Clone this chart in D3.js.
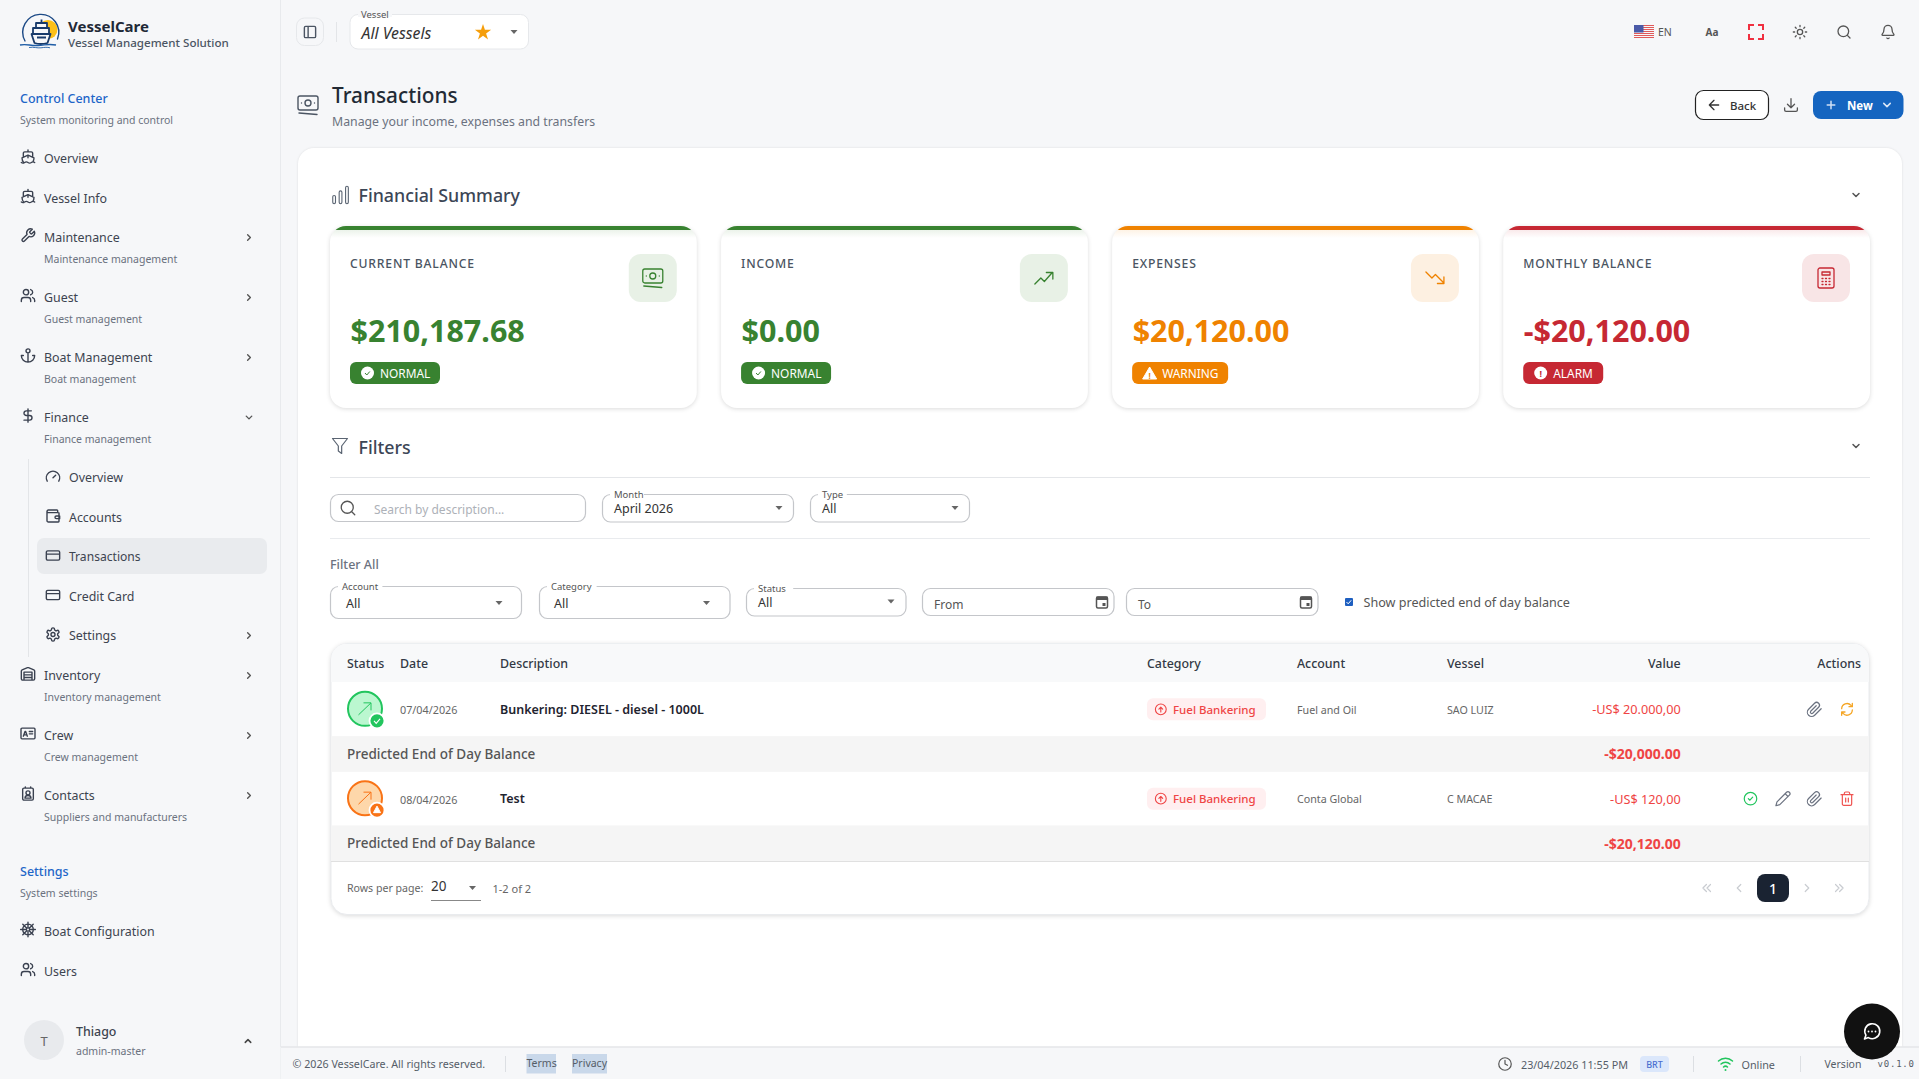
<!DOCTYPE html>
<html><head><meta charset="utf-8">
<script src="https://cdn.jsdelivr.net/npm/d3@7"></script>
<style>html,body{margin:0;padding:0;background:#f6f7f9;overflow:hidden}svg{display:block}text{font-family:"Noto Sans",sans-serif}</style>
</head><body><div id="app"></div>
<script>
// ---------- data ----------
const brandName = "VesselCare";
const brandTagline = "Vessel Management Solution";
const navMain = ["Overview","Vessel Info"];
const navGroups1 = ["Maintenance","Guest","Boat Management","Finance"];
const navGroups1Sub = ["Maintenance management","Guest management","Boat management","Finance management"];
const navFinance = ["Overview","Accounts","Transactions","Credit Card","Settings"];
const navGroups2 = ["Inventory","Crew","Contacts"];
const navGroups2Sub = ["Inventory management","Crew management","Suppliers and manufacturers"];
const navSettings = ["Boat Configuration","Users"];
const cardLabels = ["CURRENT BALANCE","INCOME","EXPENSES","MONTHLY BALANCE"];
const cardValues = [210187.68,0,20120,-20120];
const cardStatus = ["NORMAL","NORMAL","WARNING","ALARM"];
const tableColumns = ["Status","Date","Description","Category","Account","Vessel","Value","Actions"];
const txDates = ["07/04/2026","08/04/2026"];
const txDescriptions = ["Bunkering: DIESEL - diesel - 1000L","Test"];
const txCategories = ["Fuel Bankering","Fuel Bankering"];
const txAccounts = ["Fuel and Oil","Conta Global"];
const txVessels = ["SAO LUIZ","C MACAE"];
const txValues = [-20000,-120];
const txBalances = [-20000,-20120];
const txStates = ["paid","pending"];

// ---------- palette ----------
const GREEN="#388230", ORANGE="#ef8200", RED="#c62833";
const statusColor = d3.scaleOrdinal().domain(["NORMAL","WARNING","ALARM"]).range([GREEN,ORANGE,RED]);
const statusTile = d3.scaleOrdinal().domain(["NORMAL","WARNING","ALARM"]).range(["#e8f1e6","#fdf0e1","#f8e5e6"]);
const fmtUS = d3.formatLocale({decimal:".",thousands:",",grouping:[3],currency:["$",""],minus:"-"}).format("$,.2f");
const fmtBR = d3.formatLocale({decimal:",",thousands:".",grouping:[3],currency:["US$ ",""],minus:"-"}).format("$,.2f");

// ---------- icons ----------
const I = {
 ship:"M12 10.189V14 M12 2v3 M19 13V7a2 2 0 0 0-2-2H7a2 2 0 0 0-2 2v6 M19.38 20A11.6 11.6 0 0 0 21 14l-8.188-3.639a2 2 0 0 0-1.624 0L3 14a11.6 11.6 0 0 0 2.81 7.76 M2 21c.6.5 1.2 1 2.5 1 2.5 0 2.5-2 5-2 1.3 0 1.9.5 2.5 1s1.2 1 2.5 1c2.5 0 2.5-2 5-2 1.3 0 1.9.5 2.5 1",
 wrench:"M14.7 6.3a1 1 0 0 0 0 1.4l1.6 1.6a1 1 0 0 0 1.4 0l3.77-3.77a6 6 0 0 1-7.94 7.94l-6.91 6.91a2.12 2.12 0 0 1-3-3l6.91-6.91a6 6 0 0 1 7.94-7.94l-3.76 3.76z",
 users:"M16 21v-2a4 4 0 0 0-4-4H6a4 4 0 0 0-4 4v2 M16 3.13a4 4 0 0 1 0 7.75 M22 21v-2a4 4 0 0 0-3-3.87 M13 7a4 4 0 1 1-8 0 4 4 0 0 1 8 0",
 anchor:"M12 22V8 M5 12H2a10 10 0 0 0 20 0h-3 M15 5a3 3 0 1 1-6 0 3 3 0 0 1 6 0",
 dollar:"M12 2v20 M17 5H9.5a3.5 3.5 0 0 0 0 7h5a3.5 3.5 0 0 1 0 7H6",
 gauge:"M12 14l4-4 M3.34 19a10 10 0 1 1 17.32 0",
 wallet:"M19 7V4a1 1 0 0 0-1-1H5a2 2 0 0 0 0 4h15a1 1 0 0 1 1 1v12a1 1 0 0 1-1 1H5a2 2 0 0 1-2-2V5 M22 12h-5a2 2 0 0 0 0 4h5z",
 card:"M4 5h16a2 2 0 0 1 2 2v10a2 2 0 0 1-2 2H4a2 2 0 0 1-2-2V7a2 2 0 0 1 2-2z M2 10h20",
 gear:"M12.22 2h-.44a2 2 0 0 0-2 2v.18a2 2 0 0 1-1 1.73l-.43.25a2 2 0 0 1-2 0l-.15-.08a2 2 0 0 0-2.73.73l-.22.38a2 2 0 0 0 .73 2.73l.15.1a2 2 0 0 1 1 1.72v.51a2 2 0 0 1-1 1.74l-.15.09a2 2 0 0 0-.73 2.73l.22.38a2 2 0 0 0 2.73.73l.15-.08a2 2 0 0 1 2 0l.43.25a2 2 0 0 1 1 1.73V20a2 2 0 0 0 2 2h.44a2 2 0 0 0 2-2v-.18a2 2 0 0 1 1-1.73l.43-.25a2 2 0 0 1 2 0l.15.08a2 2 0 0 0 2.73-.73l.22-.39a2 2 0 0 0-.73-2.73l-.15-.08a2 2 0 0 1-1-1.74v-.5a2 2 0 0 1 1-1.74l.15-.09a2 2 0 0 0 .73-2.73l-.22-.38a2 2 0 0 0-2.73-.73l-.15.08a2 2 0 0 1-2 0l-.43-.25a2 2 0 0 1-1-1.73V4a2 2 0 0 0-2-2z M15 12a3 3 0 1 1-6 0 3 3 0 0 1 6 0",
 warehouse:"M22 8.35V20a2 2 0 0 1-2 2H4a2 2 0 0 1-2-2V8.35A2 2 0 0 1 3.26 6.5l8-3.2a2 2 0 0 1 1.48 0l8 3.2A2 2 0 0 1 22 8.35Z M6 18h12 M6 14h12 M6 10h12 M6 22V10 M18 22V10",
 idcard:"M3 4h18a1.5 1.5 0 0 1 1.5 1.5v13a1.5 1.5 0 0 1-1.5 1.5H3a1.5 1.5 0 0 1-1.5-1.5v-13A1.5 1.5 0 0 1 3 4z M14 9h5 M14 12.5h5 M5 16l2.5-7h1l2.5 7 M6 14h4",
 contact:"M16 2v2 M8 2v2 M6 4h12a2 2 0 0 1 2 2v14a2 2 0 0 1-2 2H6a2 2 0 0 1-2-2V6a2 2 0 0 1 2-2z M7.5 19a4.5 4 0 0 1 9 0z M15 11a3 3 0 1 1-6 0 3 3 0 0 1 6 0",
 wheel:"M20 12a8 8 0 1 1-16 0 8 8 0 0 1 16 0 M14.5 12a2.5 2.5 0 1 1-5 0 2.5 2.5 0 0 1 5 0 M12 1v8 M12 15v8 M1 12h8 M15 12h8 M4.2 4.2l5.6 5.6 M14.2 14.2l5.6 5.6 M19.8 4.2l-5.6 5.6 M9.8 14.2l-5.6 5.6",
 chevR:"M9 6l6 6-6 6", chevD:"M6 9l6 6 6-6", chevU:"M6 15l6-6 6 6", chevL:"M15 6l-6 6 6 6",
 chevDL:"M11 6l-6 6 6 6 M18 6l-6 6 6 6", chevDR:"M6 6l6 6-6 6 M13 6l6 6-6 6",
 panel:"M5 3h14a2 2 0 0 1 2 2v14a2 2 0 0 1-2 2H5a2 2 0 0 1-2-2V5a2 2 0 0 1 2-2z M9 3v18",
 money:"M4 3h16a2 2 0 0 1 2 2v10a2 2 0 0 1-2 2H4a2 2 0 0 1-2-2V5a2 2 0 0 1 2-2z M15 10a3 3 0 1 1-6 0 3 3 0 0 1 6 0 M5.5 10h.01 M18.5 10h.01 M3 20l18 1.5",
 bars:"M3 14a1.5 1.5 0 0 1 3 0v6a1.5 1.5 0 0 1-3 0z M10 9a1.5 1.5 0 0 1 3 0v11a1.5 1.5 0 0 1-3 0z M17 4a1.5 1.5 0 0 1 3 0v16a1.5 1.5 0 0 1-3 0z",
 funnel:"M3 3h18l-7 9v9l-4-3v-6z",
 search:"M19 11a8 8 0 1 1-16 0 8 8 0 0 1 16 0 M21 21l-4.3-4.3",
 bell:"M10.3 21a2 2 0 0 0 3.4 0 M3.3 15.3A1 1 0 0 0 4 17h16a1 1 0 0 0 .7-1.7C19.4 14 18 12.5 18 8A6 6 0 0 0 6 8c0 4.5-1.4 6-2.7 7.3",
 sun:"M16 12a4 4 0 1 1-8 0 4 4 0 0 1 8 0 M12 2v2 M12 20v2 M4.9 4.9l1.4 1.4 M17.7 17.7l1.4 1.4 M2 12h2 M20 12h2 M6.3 17.7l-1.4 1.4 M19.1 4.9l-1.4 1.4",
 trendUp:"M3 18l6-6 3.5 3.5L20 7 M14.5 6.5H21V13",
 trendDown:"M3 6l6 6 3.5-3.5L20 16 M14.5 17.5H21V11",
 calc:"M6 2h12a2 2 0 0 1 2 2v16a2 2 0 0 1-2 2H6a2 2 0 0 1-2-2V4a2 2 0 0 1 2-2z M8 6h8v3H8z M8 12.5h1 M11.5 12.5h1 M15 12.5h1 M8 15.5h1 M11.5 15.5h1 M15 15.5h1 M8 18.5h1 M11.5 18.5h1 M15 18.5h1",
 arrowL:"M19 12H5 M12 19l-7-7 7-7",
 download:"M12 3v13 M7 11l5 5 5-5 M3 16v3a2 2 0 0 0 2 2h14a2 2 0 0 0 2-2v-3",
 plus:"M5 12h14 M12 5v14",
 clip:"M21.4 11.1l-9.2 9.2a6 6 0 0 1-8.5-8.5l8.4-8.4a4 4 0 0 1 5.7 5.7l-8.4 8.4a2 2 0 0 1-2.8-2.8l7.8-7.8",
 refresh:"M4 11a8 8 0 0 1 14-5l2 2 M20 3v5h-5 M20 13a8 8 0 0 1-14 5l-2-2 M4 21v-5h5",
 checkCircle:"M22 12a10 10 0 1 1-20 0 10 10 0 0 1 20 0 M8.5 12l2.5 2.5 4.5-5",
 pencil:"M17 3a2.8 2.8 0 1 1 4 4L7.5 20.5 2 22l1.5-5.5z M15 5l4 4",
 trash:"M3 6h18 M19 6v14a2 2 0 0 1-2 2H7a2 2 0 0 1-2-2V6 M8 6V4a2 2 0 0 1 2-2h4a2 2 0 0 1 2 2v2 M10 11v6 M14 11v6",
 clock:"M22 12a10 10 0 1 1-20 0 10 10 0 0 1 20 0 M12 6v6l4 2",
 upCircle:"M22 12a10 10 0 1 1-20 0 10 10 0 0 1 20 0 M12 17V8 M8.5 11.5L12 8l3.5 3.5",
 chat:"M3 21l1.7-4.6A9 9 0 1 1 7.6 19.3z"
};

const W=1919,H=1079;
const svg=d3.select("#app").append("svg").attr("width",W).attr("height",H).attr("viewBox",`0 0 ${W} ${H}`);
const defs=svg.append("defs");
function txt(x,y,s,o={}){
  const t=svg.append("text").attr("x",x).attr("y",y).attr("dominant-baseline","central").text(s)
   .attr("font-size",o.size||12).attr("font-weight",o.weight||400).attr("fill",o.fill||"#444");
  if(o.anchor)t.attr("text-anchor",o.anchor);
  if(o.style)t.attr("font-style",o.style);
  if(o.ls)t.attr("letter-spacing",o.ls);
  if(o.family)t.style("font-family",o.family);
  return t;
}
function icon(name,cx,cy,size,color,sw=1.6,fill="none"){
  const k=size/24;
  svg.append("path").attr("d",I[name]).attr("transform",`translate(${cx-size/2},${cy-size/2}) scale(${k})`)
    .attr("fill",fill).attr("stroke",color).attr("stroke-width",sw/k)
    .attr("stroke-linecap","round").attr("stroke-linejoin","round");
}
function rect(x,y,w,h,r,fill,stroke,sw=1){
  const e=svg.append("rect").attr("x",x).attr("y",y).attr("width",w).attr("height",h).attr("rx",r).attr("ry",r).attr("fill",fill||"none");
  if(stroke)e.attr("stroke",stroke).attr("stroke-width",sw);
  return e;
}
function line(x1,y1,x2,y2,c,sw=1){svg.append("line").attr("x1",x1).attr("y1",y1).attr("x2",x2).attr("y2",y2).attr("stroke",c).attr("stroke-width",sw);}
function caret(x,y,c="#666"){svg.append("path").attr("d",`M${x-3.5},${y-2}h7l-3.5,4z`).attr("fill",c);}

// ---------- background / sidebar ----------
rect(0,0,W,H,0,"#f6f7f9");
line(280.5,0,280.5,H,"#e8eaed");

// logo
(function(){
  svg.append("circle").attr("cx",48).attr("cy",29.5).attr("r",9.5).attr("fill","#fdc018");
  svg.append("path").attr("d","M25,41 A18,18 0 1 1 57.5,39").attr("fill","none").attr("stroke","#1c4a86").attr("stroke-width",1.4).attr("stroke-linecap","round");
  svg.append("path").attr("d","M36,28v-5h11v5z M33,34v-6h16v6z M31.5,34h19l-3,9q-7,2-13,0z").attr("fill","#f6f7f9").attr("stroke","#183a6a").attr("stroke-width",1.8).attr("stroke-linejoin","round");
  svg.append("path").attr("d","M41.5,19.5v3.5 M37,37.5h9").attr("fill","none").attr("stroke","#183a6a").attr("stroke-width",1.8);
  svg.append("path").attr("d","M20,45c7,-1.5 10,1 18,0.5s10,-2 18,-0.5").attr("fill","none").attr("stroke","#1f5da6").attr("stroke-width",1.4);
  svg.append("path").attr("d","M29,47.5c5,-0.8 8,0.8 12,0.3s6,-0.8 9,0").attr("fill","none").attr("stroke","#1f5da6").attr("stroke-width",0.9);
})();
txt(68,26,brandName,{size:15,weight:700,fill:"#1f2937"});
txt(68,42,brandTagline,{size:11.6,weight:500,fill:"#4b5563"});

const NAVC="#3d4450", SUBC="#6b7280", BLUE="#1e66c8";
txt(20,98.5,"Control Center",{size:12.5,weight:500,fill:BLUE});
txt(20,120,"System monitoring and control",{size:10.5,fill:SUBC});

function navItem(ic,label,y,sub,chev){
  icon(ic,28,y-2,16,"#3a4150",1.4);
  txt(44,y,label,{size:12.4,fill:NAVC});
  if(sub) txt(44,y+21.5,sub,{size:10.5,fill:SUBC});
  if(chev) icon(chev,249,y,11,"#555",1.4);
}
const navMainY=d3.scalePoint().domain(navMain).range([158.5,198]);
navMain.forEach(n=>navItem("ship",n,navMainY(n)));
const g1Y=d3.scaleLinear().domain([0,3]).range([237.5,417.5]);
const g1Icons=["wrench","users","anchor","dollar"];
navGroups1.forEach((n,i)=>navItem(g1Icons[i],n,g1Y(i),navGroups1Sub[i],n==="Finance"?"chevD":"chevR"));

// finance submenu
line(28.5,459,28.5,657,"#e3e5e8");
rect(37,538,230,36,7,"#e9ebee");
const finY=d3.scaleLinear().domain([0,4]).range([477.5,635.5]);
const finIcons=["gauge","wallet","card","card","gear"];
navFinance.forEach((n,i)=>{
  icon(finIcons[i],53,finY(i)-1,16,"#3a4150",1.4);
  txt(69,finY(i),n,{size:n==="Transactions"?12.1:12.4,fill:NAVC});
  if(n==="Settings") icon("chevR",249,finY(i),11,"#555",1.4);
});
const g2Y=d3.scaleLinear().domain([0,2]).range([675.5,795.5]);
const g2Icons=["warehouse","idcard","contact"];
navGroups2.forEach((n,i)=>navItem(g2Icons[i],n,g2Y(i),navGroups2Sub[i],"chevR"));

txt(20,871.5,"Settings",{size:12.5,weight:500,fill:BLUE});
txt(20,893,"System settings",{size:10.5,fill:SUBC});
navItem("wheel",navSettings[0],931.5);
navItem("users",navSettings[1],971.5);

svg.append("circle").attr("cx",44).attr("cy",1040).attr("r",20).attr("fill","#e8eaed");
txt(44,1041,"T",{size:13,fill:"#666",anchor:"middle"});
txt(76,1031.5,"Thiago",{size:12.4,weight:500,fill:NAVC});
txt(76,1050.5,"admin-master",{size:10.5,fill:SUBC});
icon("chevU",248,1041,11,"#444",1.5);

// ---------- top bar ----------
rect(296.5,18,27,27.5,8,"#f6f7f9","#e6e8eb");
icon("panel",310,32,15,"#4b5563",1.4);
line(336.5,22,336.5,42,"#e3e5e8");
rect(350,14.5,178.5,34.5,8,"#fff","#e6e8eb");
rect(358,12,34,5,0,"#f6f7f9");
txt(361,14.5,"Vessel",{size:9.5,fill:"#555"});
txt(361.5,33,"All Vessels",{size:15.8,style:"italic",fill:"#333"});
svg.append("path").attr("d",d3.symbol().type(d3.symbolStar).size(82)).attr("transform","translate(483,32.5)").attr("fill","#f59e0b");
caret(514,32);

// flag
(function(){
  d3.range(7).forEach(i=>rect(1634,25+i*2,20,1,0,"#e05a5a"));
  rect(1634,25,9.5,7.5,0,"#4a5aa8");
})();
txt(1658,32,"EN",{size:10.5,fill:"#555"});
txt(1712,31.5,"Aa",{size:10,weight:700,fill:"#555",anchor:"middle"});
svg.append("path").attr("d","M1749,30v-5h5 M1758,25h5v5 M1763,34v5h-5 M1754,39h-5v-5").attr("fill","none").attr("stroke","#f03040").attr("stroke-width",2);
icon("sun",1800,32,16,"#555",1.3);
icon("search",1844,32,16,"#555",1.3);
icon("bell",1888,32,16,"#555",1.3);

// ---------- title ----------
icon("money",308,105,24,"#4b5563",1.4);
txt(332,95,"Transactions",{size:20.8,weight:500,fill:"#222a35"});
txt(332,121.5,"Manage your income, expenses and transfers",{size:12.3,fill:"#6b7280"});
rect(1695.5,90.5,73,29,8,"#fff","#222",1.2);
icon("arrowL",1714,105,16,"#333",1.3);
txt(1730,105,"Back",{size:11.5,weight:500,fill:"#333"});
icon("download",1791,105,17,"#555",1.3);
rect(1813,91,90.5,28,8,"#1565c0");
icon("plus",1831,105,13,"#cfe0f5",1.5);
txt(1847,105,"New",{size:11.5,weight:700,fill:"#fff"});
icon("chevD",1887,105,13,"#dce8f7",1.5);

// ---------- main panel ----------
svg.append("path").attr("d","M298,1047V164a16,16 0 0 1 16,-16H1886a16,16 0 0 1 16,16V1047z").attr("fill","#fff").style("filter","drop-shadow(0 0 1px rgba(0,0,0,.10))");

const SEC="#3c4656";
icon("bars",341,195,22,"#5a6472",1.1);
txt(358.5,195,"Financial Summary",{size:17.8,weight:500,fill:SEC});
icon("chevD",1856,195,12,"#555",1.5);

// ---------- summary cards ----------
const cardX=d3.scaleBand().domain(cardLabels).range([330,1870]).paddingInner(0.0621);
const cardIcons=["money","trendUp","trendDown","calc"];
const cardH=182, cardY=226;
cardLabels.forEach((lab,i)=>{
  const x=cardX(lab), w=cardX.bandwidth(), st=cardStatus[i], col=statusColor(st);
  rect(x,cardY,w,cardH,16,"#fff").style("filter","drop-shadow(0 1px 2px rgba(0,0,0,.14))");
  const id="cc"+i;
  defs.append("clipPath").attr("id",id).append("rect").attr("x",x).attr("y",cardY).attr("width",w).attr("height",cardH).attr("rx",16);
  const gr=defs.append("linearGradient").attr("id","gl"+i).attr("x1",0).attr("y1",0).attr("x2",0).attr("y2",1);
  gr.append("stop").attr("offset",0).attr("stop-color",col).attr("stop-opacity",.10);
  gr.append("stop").attr("offset",1).attr("stop-color",col).attr("stop-opacity",0);
  svg.append("rect").attr("x",x).attr("y",cardY).attr("width",w).attr("height",4).attr("fill",col).attr("clip-path",`url(#${id})`);
  svg.append("rect").attr("x",x).attr("y",cardY+4).attr("width",w).attr("height",8).attr("fill",`url(#gl${i})`).attr("clip-path",`url(#${id})`);
  txt(x+20,263.5,lab,{size:12.2,weight:500,fill:"#4a5462",ls:.8});
  txt(x+20.5,329.7,fmtUS(cardValues[i]),{size:30.5,weight:700,fill:col});
  rect(x+w-68,254,48,48,12,statusTile(st));
  icon(cardIcons[i],x+w-44,278,24,col,1.3);
  const bw={NORMAL:90,WARNING:96,ALARM:80}[st];
  rect(x+20,362,bw,22,6,col);
  const bx=x+37.5;
  if(st==="WARNING"){
    svg.append("path").attr("d",`M${bx},367l7,12h-14z`).attr("fill","#fff").attr("stroke","#fff").attr("stroke-linejoin","round");
    txt(bx,375,"!",{size:8,weight:700,fill:col,anchor:"middle"});
  } else {
    svg.append("circle").attr("cx",bx).attr("cy",373).attr("r",6.5).attr("fill","#fff");
    if(st==="NORMAL") svg.append("path").attr("d",`M${bx-2.5},373l1.8,2 3,-3.5`).attr("fill","none").attr("stroke",col).attr("stroke-width",1);
    else txt(bx,373,"!",{size:9,weight:700,fill:col,anchor:"middle"});
  }
  txt(x+50,373,st,{size:11.9,fill:"#fff"});
});

// ---------- filters ----------
icon("funnel",340,446,20,"#5a6472",1.2);
txt(358.5,447,"Filters",{size:17.8,weight:500,fill:SEC});
icon("chevD",1856,446,12,"#555",1.5);
line(330,477.5,1870,477.5,"#e4e6e9");
line(330,538.5,1870,538.5,"#e9ebee");

function field(x,y,w,h,label,value,vy,cx,tx){
  rect(x+.5,y+.5,w,h,8,"#fff","#c4c6ca",1.2);
  if(label){
    const lw=label.length*5.2+8;
    rect(x+8,y-2,lw,4,0,"#fff");
    txt(x+12,y+0.5,label,{size:9.5,fill:"#555"});
  }
  if(value) txt(tx,vy,value,{size:12.5,fill:"#333"});
  if(cx) caret(cx,vy-0.5);
}
rect(330.5,494.5,255,27,8,"#fff","#c4c6ca",1.2);
icon("search",348,508,18,"#555",1.3);
txt(374,509.5,"Search by description...",{size:12,fill:"#adb1b8"});
field(602,494,191,27.5,"Month","April 2026",508.5,779,614);
field(810,494,159,27.5,"Type","All",508.5,955,822);

txt(330,564.5,"Filter All",{size:12.5,weight:500,fill:"#6b7280"});
field(330,586,191,32,"Account","All",603.5,499,346);
field(539,586,190.5,32,"Category","All",603.5,706.5,554);
field(746,588,159.5,27.5,"Status","All",602,891,758);
[["From",922,191.5],["To",1126,191.5]].forEach(([l,x,w])=>{
  rect(x+.5,588.5,w,27,8,"#fff","#c4c6ca",1.2);
  txt(x+12,604.5,l,{size:12,fill:"#555"});
  const cx=x+180;
  rect(cx-5.5,597,11,11,1.5,"#fff","#555",1.5);
  rect(cx-5.5,596.5,11,3.5,0,"#555");
  rect(cx+.5,603,3,3,0,"#555");
});
rect(1345,598,8,8,1,"#1e5fc0");
svg.append("path").attr("d","M1346.5,602l1.7,1.8 3,-3.5").attr("fill","none").attr("stroke","#fff").attr("stroke-width",1);
txt(1363.5,602,"Show predicted end of day balance",{size:12.6,fill:"#555"});

// ---------- table ----------
const T={x:331,y:643.5,w:1538,h:271};
rect(T.x,T.y,T.w,T.h,16,"#fff","#e9ebee").style("filter","drop-shadow(0 1px 2px rgba(0,0,0,.14))");
defs.append("clipPath").attr("id","tc").append("rect").attr("x",T.x).attr("y",T.y).attr("width",T.w).attr("height",T.h).attr("rx",16);
const tb=svg.append("g").attr("clip-path","url(#tc)");
tb.append("rect").attr("x",T.x).attr("y",T.y).attr("width",T.w).attr("height",38.5).attr("fill","#f8f9fa");
const colX=d3.scaleOrdinal().domain(tableColumns).range([347,400,500,1147,1297,1447,1680.7,1861]);
tableColumns.forEach(c=>txt(colX(c),663.5,c,{size:12.4,weight:500,fill:"#333a45",anchor:(c==="Value"||c==="Actions")?"end":null}));

const rowBand=d3.scaleBand().domain(d3.range(txDates.length)).range([682.6,861.2]);
const RH=53.5;
txDates.forEach((d,i)=>{
  const y=rowBand(i), c=y+RH/2, bc=y+RH+17.6;
  tb.append("rect").attr("x",T.x).attr("y",y+RH).attr("width",T.w).attr("height",rowBand.bandwidth()-RH).attr("fill","#f5f5f5");
  const paid=txStates[i]==="paid";
  const cy=c-0.5;
  svg.append("circle").attr("cx",365).attr("cy",cy).attr("r",17).attr("fill",paid?"#bbf7d0":"#fed7aa").attr("stroke",paid?"#22c55e":"#f97316").attr("stroke-width",2);
  svg.append("path").attr("d",`M358.5,${cy+6}L371,${cy-6} M363.5,${cy-6}h7.5v7.5`).attr("fill","none").attr("stroke",paid?"#22c55e":"#f97316").attr("stroke-width",1);
  svg.append("circle").attr("cx",377).attr("cy",cy+12).attr("r",7.5).attr("fill",paid?"#22c55e":"#f97316").attr("stroke","#fff").attr("stroke-width",1.8);
  if(paid) svg.append("path").attr("d",`M374,${cy+12}l2.2,2.5 3.8,-4.5`).attr("fill","none").attr("stroke","#fff").attr("stroke-width",1.1);
  else svg.append("path").attr("d",`M377,${cy+8}l3.5,6.5h-7z`).attr("fill","#fff").attr("stroke","#fff").attr("stroke-linejoin","round");
  txt(400,c+0.5,d,{size:10.8,fill:"#666"});
  txt(500,c,txDescriptions[i],{size:12.5,weight:600,fill:"#1f2430"});
  rect(1147,c-11,119,22,6,"#ffeff0");
  icon("upCircle",1160.8,c,13,"#ef4444",1.1);
  txt(1173,c,txCategories[i],{size:11.5,weight:500,fill:"#ef4444"});
  txt(1297,c+0.5,txAccounts[i],{size:10.7,fill:"#666"});
  txt(1447,c+0.5,txVessels[i],{size:10.7,fill:"#666"});
  txt(1680.7,c,fmtBR(txValues[i]),{size:12.7,fill:"#ef4444",anchor:"end"});
  txt(347,bc,"Predicted End of Day Balance",{size:13.5,weight:500,fill:"#555"});
  txt(1680.7,bc,fmtUS(txBalances[i]),{size:14,weight:700,fill:"#ef4444",anchor:"end"});
  icon("clip",1814.5,c,17,"#6b7280",1.2);
  if(paid){ icon("refresh",1847,c,16,"#f5a524",1.3); }
  else {
    icon("checkCircle",1750.5,c,15,"#22c55e",1.2);
    icon("pencil",1783,c,17,"#6b7280",1.2);
    icon("trash",1847,c,16,"#ef5350",1.2);
  }
});
line(331,861.5,1869,861.5,"#e0e0e0");

// pagination
txt(347,888,"Rows per page:",{size:10.6,fill:"#666"});
txt(431,886,"20",{size:13.5,fill:"#333"});
line(431,900.5,481,900.5,"#888");
caret(472.5,888);
txt(492.5,888,"1-2 of 2",{size:11,fill:"#666"});
[["chevDL",1707],["chevL",1739],["chevR",1807],["chevDR",1839]].forEach(([n,x])=>icon(n,x,888,14,"#c9ccd1",1.2));
rect(1757,874,32,28,8,"#1a2332");
txt(1773,888,"1",{size:14,weight:500,fill:"#fff",anchor:"middle"});

// ---------- footer ----------
rect(280.5,1047,W-280,32,0,"#f6f7f9");
line(281,1047,W,1047,"#e4e6e9",1.5);
const FC="#555d68";
txt(292.5,1064,"© 2026 VesselCare. All rights reserved.",{size:10.7,fill:FC});
line(505.5,1056,505.5,1072,"#dcdfe3");
rect(526.5,1054,29.5,19.5,0,"#c9d8ea"); rect(572,1054,35,19.5,0,"#c9d8ea");
txt(526.5,1063,"Terms",{size:10.5,fill:FC}); txt(572,1063,"Privacy",{size:10.5,fill:FC});
icon("clock",1505,1064,15,"#555",1.2);
txt(1521,1064,"23/04/2026 11:55 PM",{size:10.8,fill:FC});
rect(1640,1056,29,16,4,"#dbe7fb");
txt(1654.5,1064.5,"BRT",{size:9,weight:500,fill:"#4a6fd0",anchor:"middle"});
line(1693.5,1056,1693.5,1072,"#dcdfe3");
(function(){
  const x=1725.5,y=1064,c="#22c55e";
  svg.append("path").attr("d",`M${x-7},${y-3}a10,10 0 0 1 14,0 M${x-4.5},${y}a6.5,6.5 0 0 1 9,0 M${x-2},${y+3}a3,3 0 0 1 4,0`).attr("fill","none").attr("stroke",c).attr("stroke-width",1.5).attr("stroke-linecap","round");
  svg.append("circle").attr("cx",x).attr("cy",y+6).attr("r",1).attr("fill",c);
})();
txt(1741.5,1064,"Online",{size:10.8,fill:FC});
line(1800.5,1056,1800.5,1072,"#dcdfe3");
txt(1824.5,1064,"Version",{size:10.5,fill:FC});
txt(1877.5,1064,"v0.1.0",{size:9,fill:FC,ls:.8,family:"DejaVu Sans Mono"});

// chat
svg.append("circle").attr("cx",1872).attr("cy",1031.5).attr("r",28).attr("fill","#111");
icon("chat",1872,1031.5,20,"#fff",1.6);
[-3.5,0,3.5].forEach(d=>svg.append("circle").attr("cx",1872+d).attr("cy",1031.5).attr("r",.9).attr("fill","#fff"));
</script></body></html>
